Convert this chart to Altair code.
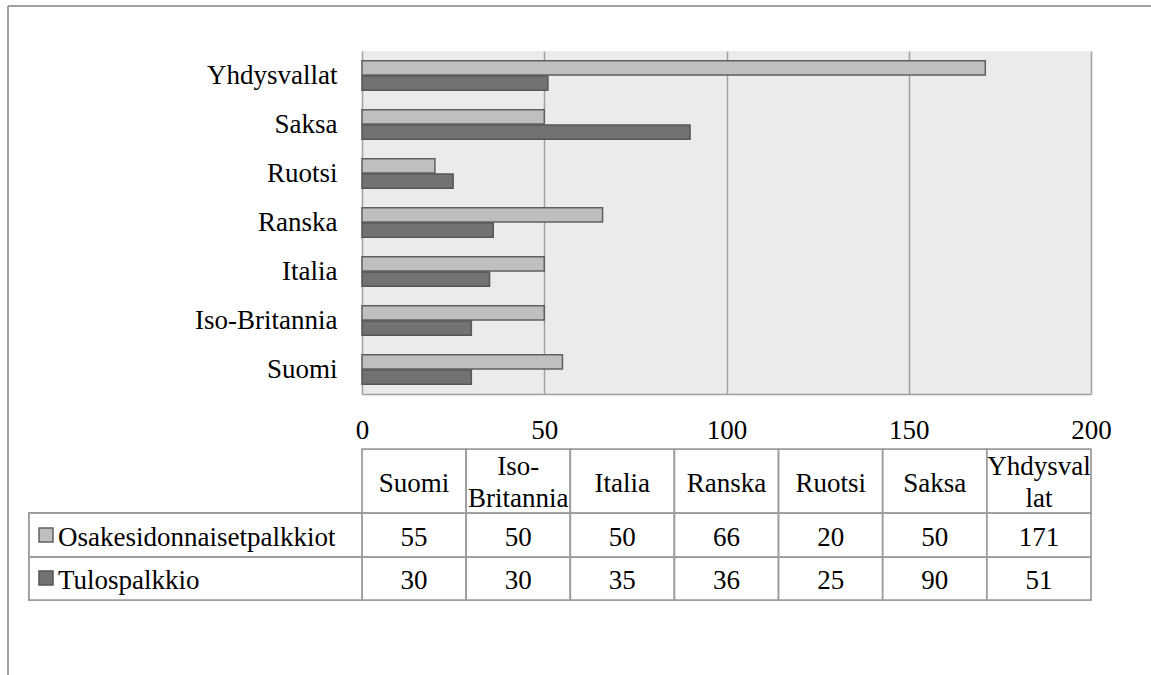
import altair as alt
import pandas as pd

# ---- data ----
countries = ["Suomi", "Iso-Britannia", "Italia", "Ranska", "Ruotsi", "Saksa", "Yhdysvallat"]
header_labels = ["Suomi", "Iso-\nBritannia", "Italia", "Ranska", "Ruotsi", "Saksa", "Yhdysval\nlat"]
series = ["Osakesidonnaisetpalkkiot", "Tulospalkkio"]
osake = [55, 50, 50, 66, 20, 50, 171]
tulos = [30, 30, 35, 36, 25, 90, 51]
x_ticks = [0, 50, 100, 150, 200]

# ---- styles ----
LIGHT, DARK = "#bfbfbf", "#727272"
LIGHT_STROKE, DARK_STROKE = "#606060", "#575757"
GRID = "#a0a0a0"
LINE = "#9c9c9c"
FONT = "Liberation Serif"
FS = 27
W, H = 729, 343

rows = []
for i, c in enumerate(countries):
    rows.append({"country": c, "series": series[0], "value": osake[i]})
    rows.append({"country": c, "series": series[1], "value": tulos[i]})
df = pd.DataFrame(rows)
cols = pd.DataFrame({"country": countries, "header": header_labels,
                     "osake": osake, "tulos": tulos})

bars = alt.Chart(df).mark_bar(strokeWidth=1.5).encode(
    x=alt.X("value:Q", scale=alt.Scale(domain=[0, 200], nice=False),
            axis=alt.Axis(values=x_ticks, title=None, grid=True, gridColor=GRID,
                          gridWidth=1.5, domain=True, domainColor=GRID, domainWidth=1.5,
                          ticks=False, labelFont=FONT, labelFontSize=FS,
                          labelColor="black", labelPadding=23, labelFlush=False)),
    y=alt.Y("country:N", sort=countries[::-1],
            scale=alt.Scale(paddingInner=0.4, paddingOuter=0.2),
            axis=alt.Axis(title=None, ticks=False, domain=False, labelFont=FONT,
                          labelFontSize=FS, labelColor="black", labelPadding=25)),
    yOffset=alt.YOffset("series:N", sort=series, scale=alt.Scale(paddingInner=0.05)),
    color=alt.Color("series:N", scale=alt.Scale(domain=series, range=[LIGHT, DARK]), legend=None),
    stroke=alt.Stroke("series:N", scale=alt.Scale(domain=series, range=[LIGHT_STROKE, DARK_STROKE]), legend=None),
)

tx = alt.X("country:N",
           scale=alt.Scale(domain=countries, paddingInner=0, paddingOuter=0), axis=None)

base = alt.Chart(cols)
# table cells (header + 2 data rows)
cell_layers = []
for (y0, y1) in [(398, 462), (462, 506), (506, 549)]:
    cell_layers.append(
        base.mark_rect(fill="white", stroke=LINE, strokeWidth=1.75).encode(
            x=tx, y=alt.value(y0), y2=alt.value(y1))
    )
# legend column cells
for (y0, y1) in [(462, 506), (506, 549)]:
    cell_layers.append(
        alt.Chart(cols).mark_rect(fill="white", stroke=LINE, strokeWidth=1.75).encode(
            x=alt.value(-333), x2=alt.value(0), y=alt.value(y0), y2=alt.value(y1))
    )

one_line = base.transform_filter("indexof(datum.header, '\\n') < 0")
two_line = base.transform_filter("indexof(datum.header, '\\n') >= 0")
header1 = one_line.mark_text(font=FONT, fontSize=FS, baseline="alphabetic", align="center",
                             color="black").encode(x=tx, y=alt.value(441), text="header:N")
header2 = two_line.mark_text(font=FONT, fontSize=FS, baseline="alphabetic", align="center",
                             lineBreak="\n", lineHeight=32, color="black").encode(
    x=tx, y=alt.value(424), text="header:N")
row1_text = base.mark_text(font=FONT, fontSize=FS, baseline="alphabetic", align="center",
                           color="black").encode(x=tx, y=alt.value(495), text="osake:Q")
row2_text = base.mark_text(font=FONT, fontSize=FS, baseline="alphabetic", align="center",
                           color="black").encode(x=tx, y=alt.value(538), text="tulos:Q")

leg = pd.DataFrame({"series": series})
leg1 = alt.Chart(leg).transform_filter(alt.datum.series == series[0])
leg2 = alt.Chart(leg).transform_filter(alt.datum.series == series[1])
sq1 = leg1.mark_rect(fill=LIGHT, stroke=LIGHT_STROKE, strokeWidth=1.5).encode(
    x=alt.value(-323), x2=alt.value(-309), y=alt.value(477), y2=alt.value(491))
sq2 = leg2.mark_rect(fill=DARK, stroke=DARK_STROKE, strokeWidth=1.5).encode(
    x=alt.value(-323), x2=alt.value(-309), y=alt.value(520), y2=alt.value(534))
lt1 = leg1.mark_text(font=FONT, fontSize=FS, baseline="alphabetic", align="left",
                     color="black").encode(x=alt.value(-304), y=alt.value(495), text="series:N")
lt2 = leg2.mark_text(font=FONT, fontSize=FS, baseline="alphabetic", align="left",
                     color="black").encode(x=alt.value(-304), y=alt.value(538), text="series:N")

# outer frame lines
frame_top = alt.Chart(leg).mark_rule(color=GRID, strokeWidth=2).encode(
    x=alt.value(-354), x2=alt.value(789), y=alt.value(-45))
frame_left = alt.Chart(leg).mark_rule(color=GRID, strokeWidth=2).encode(
    x=alt.value(-354), y=alt.value(-45), y2=alt.value(624))

chart = alt.layer(
    bars, *cell_layers, header1, header2, row1_text, row2_text,
    sq1, sq2, lt1, lt2, frame_top, frame_left
).resolve_scale(x="independent").properties(
    width=W, height=H,
    padding={"left": 362, "top": 51, "right": 60, "bottom": 281},
    autosize=alt.AutoSizeParams(type="none"),
    background="white",
).configure_view(fill="#ebebeb", stroke=None)

chart.save("out.html", embed_options={"renderer": "svg", "actions": False})
